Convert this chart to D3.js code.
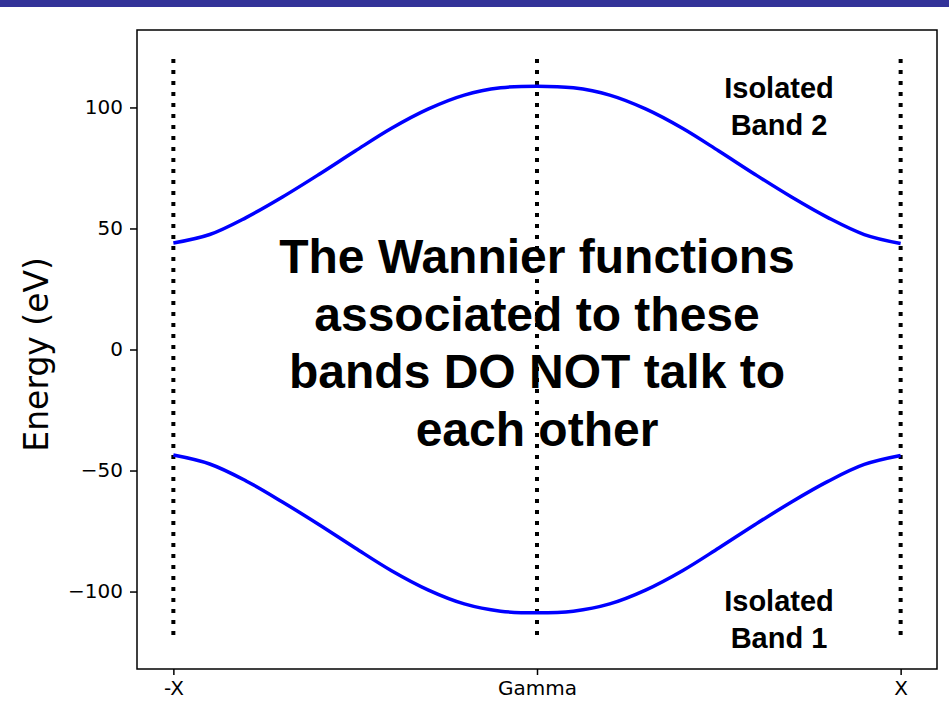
<!DOCTYPE html>
<html>
<head>
<meta charset="utf-8">
<script src="https://cdn.jsdelivr.net/npm/d3@7"></script>
<style>
  body { margin: 0; background: #fff; }
  svg { display: block; }
</style>
</head>
<body>
<div id="chart"></div>
<script>
// k points along the path -X .. Gamma .. X (in units of pi/a)
var kPoints = [-1.0, -0.9, -0.8, -0.7, -0.6, -0.5, -0.4, -0.3, -0.2, -0.1, 0.0,
               0.1, 0.2, 0.3, 0.4, 0.5, 0.6, 0.7, 0.8, 0.9, 1.0];

// band energies (eV)
var band2 = [44.0, 47.5, 54.5, 63.0, 72.3, 82.0, 91.4, 99.3, 105.1, 108.1, 108.8,
             108.1, 105.1, 99.3, 91.4, 82.0, 72.3, 63.0, 54.5, 47.5, 43.8];
var band1 = [-43.6, -47.3, -54.3, -63.0, -72.3, -82.0, -91.4, -99.3, -105.1, -108.1, -108.8,
             -108.1, -105.1, -99.3, -91.4, -82.0, -72.3, -63.0, -54.5, -47.5, -43.8];

// high-symmetry points
var symPoints = [-1, 0, 1];
var symLabels = ["-X", "Gamma", "X"];

var yTicks = [-100, -50, 0, 50, 100];

var noteLines = ["The Wannier functions", "associated to these", "bands DO NOT talk to", "each other"];

var width = 949, height = 721;
var margin = {top: 30, right: 12, bottom: 52, left: 137};

var svg = d3.select("#chart").append("svg")
  .attr("width", width)
  .attr("height", height);

// slide header strip
svg.append("rect")
  .attr("x", 0).attr("y", 0)
  .attr("width", width).attr("height", 7)
  .attr("fill", "#333399");

var x = d3.scaleLinear().domain([-1.1, 1.1]).range([margin.left, width - margin.right]);
var y = d3.scaleLinear().domain([-132, 132]).range([height - margin.bottom, margin.top]);

// vertical dotted lines at the high-symmetry points
svg.selectAll(".sym")
  .data(symPoints)
  .enter().append("line")
  .attr("class", "sym")
  .attr("x1", function (d) { return x(d); })
  .attr("x2", function (d) { return x(d); })
  .attr("y1", y(120))
  .attr("y2", y(-120))
  .attr("stroke", "#000")
  .attr("stroke-width", 4)
  .attr("stroke-dasharray", "4,7");

var line = d3.line()
  .x(function (d, i) { return x(kPoints[i]); })
  .y(function (d) { return y(d); })
  .curve(d3.curveCatmullRom.alpha(0.5));

[band1, band2].forEach(function (b) {
  svg.append("path")
    .datum(b)
    .attr("d", line)
    .attr("fill", "none")
    .attr("stroke", "#0000ff")
    .attr("stroke-width", 3.5);
});

// axes
var yAxis = d3.axisLeft(y).tickValues(yTicks).tickSize(7).tickPadding(7)
  .tickFormat(function (d) { return d < 0 ? "\u2212" + Math.abs(d) : d; });
var xAxis = d3.axisBottom(x).tickValues(symPoints).tickSize(6).tickPadding(6)
  .tickFormat(function (d, i) { return symLabels[i]; });

var gy = svg.append("g")
  .attr("transform", "translate(" + margin.left + ",0)")
  .call(yAxis);
var gx = svg.append("g")
  .attr("transform", "translate(0," + (height - margin.bottom) + ")")
  .call(xAxis);

[gx, gy].forEach(function (g) {
  g.select(".domain").remove();
  g.selectAll(".tick line").attr("stroke", "#000").attr("stroke-width", 1.5);
  g.selectAll(".tick text")
    .attr("fill", "#000")
    .style("font-family", "DejaVu Sans, sans-serif")
    .style("font-size", "20px");
});

// frame
svg.append("rect")
  .attr("x", margin.left)
  .attr("y", margin.top)
  .attr("width", width - margin.left - margin.right)
  .attr("height", height - margin.top - margin.bottom)
  .attr("fill", "none")
  .attr("stroke", "#000")
  .attr("stroke-width", 1.5);

// y label
svg.append("text")
  .attr("transform", "translate(48," + y(-2) + ") rotate(-90)")
  .attr("text-anchor", "middle")
  .style("font-family", "DejaVu Sans, sans-serif")
  .style("font-size", "33px")
  .text("Energy (eV)");

// annotations
var bold = "Liberation Sans, Arial, sans-serif";

svg.append("g").selectAll("text")
  .data(noteLines)
  .enter().append("text")
  .attr("x", x(0))
  .attr("y", function (d, i) { return 273 + i * 57.7; })
  .attr("text-anchor", "middle")
  .style("font-family", bold)
  .style("font-weight", "bold")
  .style("font-size", "48px")
  .text(function (d) { return d; });

var bandLabels = [
  {lines: ["Isolated", "Band 2"], y0: 98},
  {lines: ["Isolated", "Band 1"], y0: 611}
];
bandLabels.forEach(function (l) {
  svg.append("g").selectAll("text")
    .data(l.lines)
    .enter().append("text")
    .attr("x", 779)
    .attr("y", function (d, i) { return l.y0 + i * 37; })
    .attr("text-anchor", "middle")
    .style("font-family", bold)
    .style("font-weight", "bold")
    .style("font-size", "29px")
    .text(function (d) { return d; });
});
</script>
</body>
</html>
